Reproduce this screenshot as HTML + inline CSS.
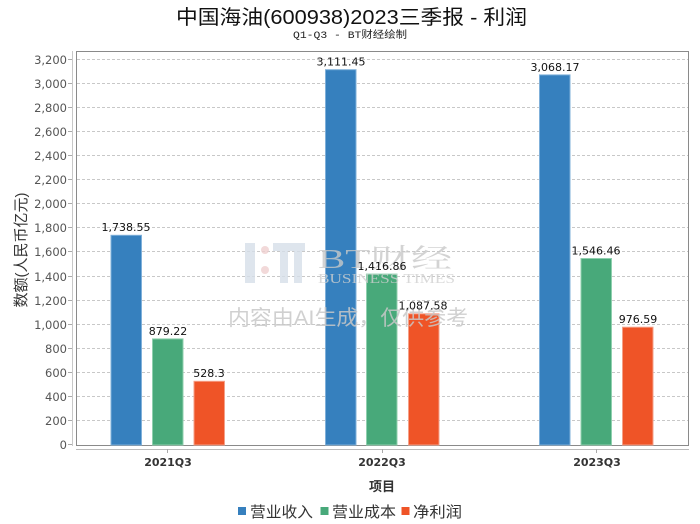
<!DOCTYPE html>
<html>
<head>
<meta charset="utf-8">
<style>
html,body{margin:0;padding:0;background:#fff;}
svg{display:block;}
</style>
</head>
<body>
<svg width="700" height="524" viewBox="0 0 700 524" xmlns="http://www.w3.org/2000/svg">
  <rect x="0" y="0" width="700" height="524" fill="#fff"/>
  <!-- Title -->
  <text x="176" y="24" font-family="'Liberation Sans','Noto Sans CJK SC',sans-serif" font-size="20" fill="#111" textLength="351" lengthAdjust="spacingAndGlyphs" xml:space="preserve">中国海油(600938)2023三季报 - 利润</text>
  <text x="293" y="38" font-family="'Liberation Mono','Noto Sans CJK SC',monospace" font-size="10" fill="#222" textLength="114" lengthAdjust="spacingAndGlyphs">Q1-Q3 - BT财经绘制</text>

  <!-- gridlines -->
  <g stroke="#c8c8c8" stroke-width="1" stroke-dasharray="3,2">
    <line x1="77" x2="688" y1="59.5" y2="59.5"/>
    <line x1="77" x2="688" y1="83.5" y2="83.5"/>
    <line x1="77" x2="688" y1="107.5" y2="107.5"/>
    <line x1="77" x2="688" y1="131.5" y2="131.5"/>
    <line x1="77" x2="688" y1="155.5" y2="155.5"/>
    <line x1="77" x2="688" y1="179.5" y2="179.5"/>
    <line x1="77" x2="688" y1="203.5" y2="203.5"/>
    <line x1="77" x2="688" y1="227.5" y2="227.5"/>
    <line x1="77" x2="688" y1="251.5" y2="251.5"/>
    <line x1="77" x2="688" y1="276.5" y2="276.5"/>
    <line x1="77" x2="688" y1="300.5" y2="300.5"/>
    <line x1="77" x2="688" y1="324.5" y2="324.5"/>
    <line x1="77" x2="688" y1="348.5" y2="348.5"/>
    <line x1="77" x2="688" y1="372.5" y2="372.5"/>
    <line x1="77" x2="688" y1="396.5" y2="396.5"/>
    <line x1="77" x2="688" y1="420.5" y2="420.5"/>
  </g>

  <!-- frame -->
  <rect x="76.5" y="51.5" width="612" height="394" fill="none" stroke="#8a8a8a" stroke-width="1"/>

  <!-- y axis -->
  <line x1="72.5" x2="72.5" y1="51" y2="446" stroke="#c8c8c8"/>
  <g stroke="#aaa">
    <line x1="68" x2="72" y1="59.5" y2="59.5"/>
    <line x1="68" x2="72" y1="83.5" y2="83.5"/>
    <line x1="68" x2="72" y1="107.5" y2="107.5"/>
    <line x1="68" x2="72" y1="131.5" y2="131.5"/>
    <line x1="68" x2="72" y1="155.5" y2="155.5"/>
    <line x1="68" x2="72" y1="179.5" y2="179.5"/>
    <line x1="68" x2="72" y1="203.5" y2="203.5"/>
    <line x1="68" x2="72" y1="227.5" y2="227.5"/>
    <line x1="68" x2="72" y1="251.5" y2="251.5"/>
    <line x1="68" x2="72" y1="276.5" y2="276.5"/>
    <line x1="68" x2="72" y1="300.5" y2="300.5"/>
    <line x1="68" x2="72" y1="324.5" y2="324.5"/>
    <line x1="68" x2="72" y1="348.5" y2="348.5"/>
    <line x1="68" x2="72" y1="372.5" y2="372.5"/>
    <line x1="68" x2="72" y1="396.5" y2="396.5"/>
    <line x1="68" x2="72" y1="420.5" y2="420.5"/>
    <line x1="68" x2="72" y1="444.5" y2="444.5"/>
  </g>
  <g font-family="'DejaVu Sans',sans-serif" font-size="11.5" fill="#555" text-anchor="end">
    <text x="67" y="64">3,200</text>
    <text x="67" y="88">3,000</text>
    <text x="67" y="112">2,800</text>
    <text x="67" y="136">2,600</text>
    <text x="67" y="160">2,400</text>
    <text x="67" y="184">2,200</text>
    <text x="67" y="208">2,000</text>
    <text x="67" y="232">1,800</text>
    <text x="67" y="256">1,600</text>
    <text x="67" y="281">1,400</text>
    <text x="67" y="305">1,200</text>
    <text x="67" y="329">1,000</text>
    <text x="67" y="353">800</text>
    <text x="67" y="377">600</text>
    <text x="67" y="401">400</text>
    <text x="67" y="425">200</text>
    <text x="67" y="449">0</text>
  </g>
  <text transform="translate(26,250) rotate(-90)" text-anchor="middle" font-family="'Liberation Sans','Noto Sans CJK SC',sans-serif" font-size="15" fill="#333">数额(人民币亿元)</text>

  <!-- x axis -->
  <line x1="76" x2="689" y1="449.5" y2="449.5" stroke="#bbb"/>
  <g stroke="#aaa">
    <line x1="167.5" x2="167.5" y1="449" y2="453"/>
    <line x1="382.5" x2="382.5" y1="449" y2="453"/>
    <line x1="596.5" x2="596.5" y1="449" y2="453"/>
  </g>
  <g font-family="'DejaVu Sans',sans-serif" font-size="11" font-weight="bold" fill="#333" text-anchor="middle">
    <text x="168" y="466">2021Q3</text>
    <text x="382" y="466">2022Q3</text>
    <text x="597" y="466">2023Q3</text>
  </g>
  <text x="382" y="491" text-anchor="middle" font-family="'Liberation Sans','Noto Sans CJK SC',sans-serif" font-size="13" font-weight="bold" fill="#333">项目</text>

  <!-- bars -->
  <g stroke-width="1">
    <rect x="111" y="235.3" width="30.5" height="209.7" fill="#3680be" stroke="#7fb0da"/>
    <rect x="152.5" y="338.9" width="30.5" height="106.1" fill="#48a97a" stroke="#8fd0ae"/>
    <rect x="194" y="381.3" width="30.5" height="63.7" fill="#ef5427" stroke="#f5a088"/>

    <rect x="325.5" y="69.7" width="30.5" height="375.3" fill="#3680be" stroke="#7fb0da"/>
    <rect x="366.5" y="274.1" width="30.5" height="170.9" fill="#48a97a" stroke="#8fd0ae"/>
    <rect x="408.5" y="313.8" width="30.5" height="131.2" fill="#ef5427" stroke="#f5a088"/>

    <rect x="539.5" y="74.9" width="30.5" height="370.1" fill="#3680be" stroke="#7fb0da"/>
    <rect x="581" y="258.5" width="30.5" height="186.5" fill="#48a97a" stroke="#8fd0ae"/>
    <rect x="622.5" y="327.2" width="30.5" height="117.8" fill="#ef5427" stroke="#f5a088"/>
  </g>

  <!-- watermark (on top, semi-transparent) -->
  <g>
    <rect x="245" y="243" width="10" height="40" fill="#d6dfe9" opacity="0.8"/>
    <circle cx="265" cy="250" r="4" fill="#efcfcf" opacity="0.8"/>
    <circle cx="265" cy="270" r="4" fill="#efcfcf" opacity="0.8"/>
    <rect x="273" y="243" width="32" height="8" fill="#d6dfe9" opacity="0.8"/>
    <rect x="280" y="251" width="8" height="32" fill="#d6dfe9" opacity="0.8"/>
    <rect x="294" y="251" width="8" height="32" fill="#d6dfe9" opacity="0.8"/>
    <text x="318" y="268" font-family="'Liberation Serif','Noto Serif CJK SC',serif" font-size="27" fill="#c8c8c8" fill-opacity="0.8" textLength="134" lengthAdjust="spacingAndGlyphs">BT财经</text>
    <text x="318" y="283" font-family="'Liberation Serif',serif" font-size="14" fill="#d0d0d0" fill-opacity="0.8" textLength="137" lengthAdjust="spacingAndGlyphs">BUSINESS TIMES</text>
    <text x="228" y="325" font-family="'Liberation Sans','Noto Sans CJK SC',sans-serif" font-size="21" fill="#c8c8c8" fill-opacity="0.85" textLength="240" lengthAdjust="spacingAndGlyphs">内容由AI生成，仅供参考</text>
  </g>

  <!-- data labels -->
  <g font-family="'DejaVu Sans',sans-serif" font-size="11" fill="#111" text-anchor="middle">
    <text x="126" y="231">1,738.55</text>
    <text x="168" y="335">879.22</text>
    <text x="209" y="377">528.3</text>
    <text x="341" y="65.5">3,111.45</text>
    <text x="382" y="270">1,416.86</text>
    <text x="423" y="309.5">1,087.58</text>
    <text x="555" y="71">3,068.17</text>
    <text x="596" y="254.5">1,546.46</text>
    <text x="638" y="323">976.59</text>
  </g>

  <!-- legend -->
  <g font-family="'Liberation Sans','Noto Sans CJK SC',sans-serif" font-size="15" fill="#333">
    <rect x="238" y="507" width="8" height="8" fill="#3680be"/>
    <text x="250" y="517" textLength="63" lengthAdjust="spacingAndGlyphs">营业收入</text>
    <rect x="320.5" y="507" width="8" height="8" fill="#48a97a"/>
    <text x="332" y="517" textLength="64" lengthAdjust="spacingAndGlyphs">营业成本</text>
    <rect x="401.5" y="507" width="8" height="8" fill="#ef5427"/>
    <text x="413" y="517" textLength="49" lengthAdjust="spacingAndGlyphs">净利润</text>
  </g>
</svg>
</body>
</html>
